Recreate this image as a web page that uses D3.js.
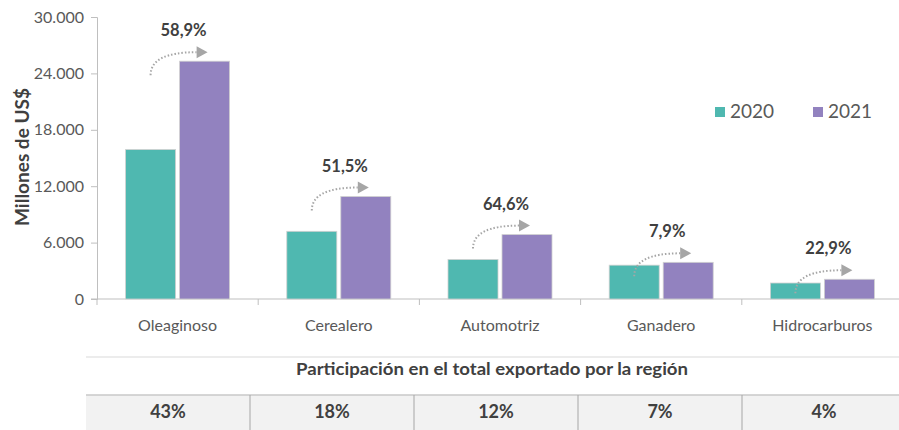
<!DOCTYPE html>
<html>
<head>
<meta charset="utf-8">
<script src="https://cdn.jsdelivr.net/npm/d3@7"></script>
<style>
  body { margin: 0; background: #fff; }
  text { font-family: Lato, "Open Sans", sans-serif; }
</style>
</head>
<body>
<svg id="chart" width="899" height="430"></svg>
<script>
// data
const categories = ["Oleaginoso", "Cerealero", "Automotriz", "Ganadero", "Hidrocarburos"];
const values2020 = [15900, 7200, 4200, 3600, 1700];
const values2021 = [25300, 10900, 6850, 3900, 2100];
const growth = ["58,9%", "51,5%", "64,6%", "7,9%", "22,9%"];
const share = ["43%", "18%", "12%", "7%", "4%"];
const years = ["2020", "2021"];
const yTicks = [0, 6000, 12000, 18000, 24000, 30000];

const colors = { "2020": "#4fb8b0", "2021": "#9282bf" };
const gray = "#bfbfbf";

const svg = d3.select("#chart");

const x = d3.scaleBand().domain(categories).range([97, 903]);
const y = d3.scaleLinear().domain([0, 30000]).range([299, 17]);
const fmt = d3.formatLocale({ decimal: ",", thousands: ".", grouping: [3], currency: ["", ""] }).format(",.0f");

// y axis
const yAxis = svg.append("g")
    .attr("transform", "translate(97,0)")
    .call(d3.axisLeft(y).tickValues(yTicks).tickFormat(fmt).tickSize(6).tickPadding(7));
yAxis.select(".domain").attr("stroke", gray);
yAxis.selectAll(".tick line").attr("stroke", gray);
yAxis.selectAll(".tick text").attr("fill", "#595959").style("font-size", "16px");

// x axis, ticks at band edges
const xAxis = svg.append("g").attr("transform", "translate(0,299)");
xAxis.append("line").attr("x1", 91).attr("x2", 903).attr("stroke", gray);
const edges = categories.map(c => x(c)).concat([x.range()[1]]);
xAxis.selectAll(".edge").data(edges).enter().append("line")
    .attr("x1", d => d).attr("x2", d => d).attr("y1", 0).attr("y2", 6)
    .attr("stroke", gray);
xAxis.selectAll(".lbl").data(categories).enter().append("text")
    .attr("x", d => x(d) + x.bandwidth() / 2)
    .attr("y", 32)
    .attr("text-anchor", "middle")
    .attr("fill", "#595959")
    .style("font-size", "16px")
    .text(d => d);

// y title
svg.append("text")
    .attr("transform", "translate(29,157) rotate(-90)")
    .attr("text-anchor", "middle")
    .attr("fill", "#404040")
    .style("font-size", "19px")
    .style("font-weight", "bold")
    .text("Millones de US$");

// bars
const barW = 50, gap = 4;
const rows = categories.map((c, i) => ({ c, v20: values2020[i], v21: values2021[i], g: growth[i] }));
const grp = svg.selectAll(".cat").data(rows).enter().append("g")
    .attr("transform", d => `translate(${x(d.c) + x.bandwidth() / 2},0)`);

grp.append("rect")
    .attr("x", -barW - gap / 2).attr("width", barW)
    .attr("y", d => y(d.v20)).attr("height", d => y(0) - y(d.v20))
    .attr("fill", colors["2020"]).attr("stroke", "#d0d0d0").attr("stroke-width", 0.8);
grp.append("rect")
    .attr("x", gap / 2).attr("width", barW)
    .attr("y", d => y(d.v21)).attr("height", d => y(0) - y(d.v21))
    .attr("fill", colors["2021"]).attr("stroke", "#d0d0d0").attr("stroke-width", 0.8);

// growth arrows
const arrowGray = "#a6a6a6";
grp.append("path")
    .attr("d", d => {
        const sx = -27, sy = y(d.v21) + 14;
        const ey = y(d.v21) - 9, ex = 19;
        return `M${sx},${sy} Q${sx},${ey} ${ex},${ey}`;
    })
    .attr("fill", "none")
    .attr("stroke", arrowGray)
    .attr("stroke-width", 2)
    .attr("stroke-dasharray", "1.5,2");
grp.append("path")
    .attr("d", d => {
        const ey = y(d.v21) - 9;
        return `M19,${ey - 6} L30,${ey} L19,${ey + 6} Z`;
    })
    .attr("fill", arrowGray);
grp.append("text")
    .attr("x", 6)
    .attr("y", d => y(d.v21) - 25)
    .attr("text-anchor", "middle")
    .attr("fill", "#404040")
    .style("font-size", "16.5px")
    .style("font-weight", "bold")
    .text(d => d.g);

// legend
const leg = svg.append("g");
const legX = [715, 813];
years.forEach((yr, i) => {
    leg.append("rect").attr("x", legX[i]).attr("y", 107).attr("width", 10).attr("height", 10)
        .attr("fill", colors[yr]);
    leg.append("text").attr("x", legX[i] + 15).attr("y", 118)
        .attr("fill", "#595959").style("font-size", "19px").text(yr);
});

// share table
const tbl = svg.append("g");
const cellX = d3.scaleBand().domain(categories).range([86, 906]);
tbl.append("line").attr("x1", 86).attr("x2", 899).attr("y1", 357).attr("y2", 357)
    .attr("stroke", "#d9d9d9");
tbl.append("text")
    .attr("x", 492).attr("y", 375)
    .attr("text-anchor", "middle")
    .attr("fill", "#404040")
    .style("font-size", "17.5px")
    .style("font-weight", "bold")
    .attr("textLength", 392)
    .attr("lengthAdjust", "spacingAndGlyphs")
    .text("Participación en el total exportado por la región");
tbl.append("rect").attr("x", 86).attr("y", 395).attr("width", 813).attr("height", 35)
    .attr("fill", "#f2f2f2");
tbl.append("line").attr("x1", 86).attr("x2", 899).attr("y1", 395).attr("y2", 395)
    .attr("stroke", "#c8c8c8").attr("stroke-width", 1.5);
tbl.selectAll(".sep").data(categories.slice(1)).enter().append("line")
    .attr("x1", d => cellX(d)).attr("x2", d => cellX(d))
    .attr("y1", 395).attr("y2", 430)
    .attr("stroke", "#a6a6a6");
tbl.selectAll(".val").data(share).enter().append("text")
    .attr("x", (d, i) => cellX(categories[i]) + cellX.bandwidth() / 2)
    .attr("y", 418)
    .attr("text-anchor", "middle")
    .attr("fill", "#404040")
    .style("font-size", "18px")
    .style("font-weight", "bold")
    .text(d => d);
</script>
</body>
</html>
